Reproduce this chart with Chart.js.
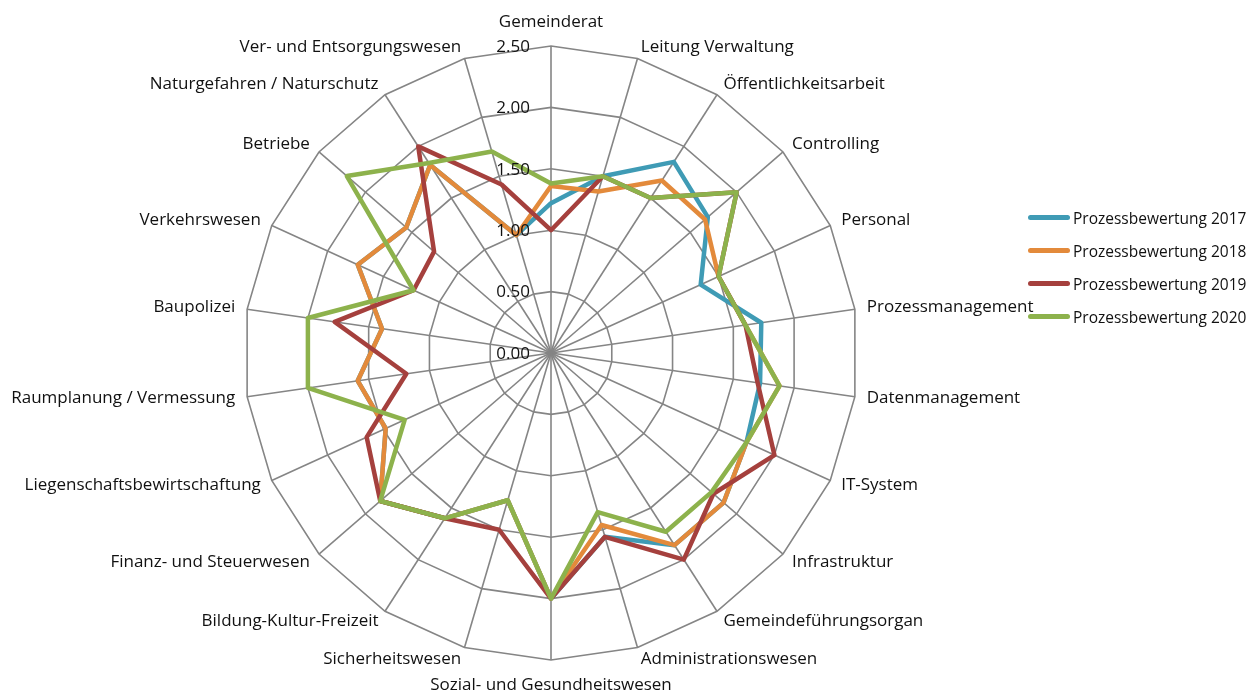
<!DOCTYPE html>
<html lang="de">
<head>
<meta charset="utf-8">
<title>Prozessbewertung</title>
<script src="https://cdn.jsdelivr.net/npm/chart.js@4.4.1/dist/chart.umd.min.js"></script>
<style>
    body { margin: 0; background: #fff; font-family: 'Open Sans', sans-serif; }
    .wrap { position: relative; width: 1257px; height: 692px; }
    .legende { position: absolute; left: 1028px; top: 201px; }
    .legende div { height: 33px; display: flex; align-items: center; font-size: 15.5px; color: #111; white-space: nowrap; }
    .legende span { display: inline-block; width: 42px; height: 5px; border-radius: 3px; margin-right: 3px; }
</style>
</head>
<body>
<div class="wrap">
    <canvas id="radar"></canvas>
    <div class="legende" id="legende"></div>
</div>
<script>
const kategorien = [
    'Gemeinderat', 'Leitung Verwaltung', 'Öffentlichkeitsarbeit', 'Controlling', 'Personal',
    'Prozessmanagement', 'Datenmanagement', 'IT-System', 'Infrastruktur', 'Gemeindeführungsorgan',
    'Administrationswesen', 'Sozial- und Gesundheitswesen', 'Sicherheitswesen', 'Bildung-Kultur-Freizeit',
    'Finanz- und Steuerwesen', 'Liegenschaftsbewirtschaftung', 'Raumplanung / Vermessung', 'Baupolizei',
    'Verkehrswesen', 'Betriebe', 'Naturgefahren / Naturschutz', 'Ver- und Entsorgungswesen'
];
const jahre = ['Prozessbewertung 2017', 'Prozessbewertung 2018', 'Prozessbewertung 2019', 'Prozessbewertung 2020'];

const werte2017 = [1.22, 1.5, 1.85, 1.69, 1.34, 1.73, 1.72, 1.75, 1.86, 1.86, 1.56, 2.0, 1.25, 1.6, 1.84, 1.48, 1.59, 1.39, 1.73, 1.56, 1.82, 1.0];
const werte2018 = [1.36, 1.37, 1.67, 1.66, 1.5, 1.6, 1.88, 1.75, 1.86, 1.86, 1.46, 2.0, 1.25, 1.6, 1.84, 1.48, 1.59, 1.39, 1.73, 1.56, 1.82, 1.0];
const werte2019 = [1.0, 1.5, 1.5, 2.0, 1.5, 1.6, 1.7, 2.0, 1.75, 2.0, 1.56, 2.0, 1.5, 1.6, 1.84, 1.65, 1.19, 1.78, 1.23, 1.26, 2.0, 1.43];
const werte2020 = [1.38, 1.5, 1.5, 2.0, 1.5, 1.6, 1.88, 1.75, 1.73, 1.73, 1.35, 2.0, 1.25, 1.6, 1.84, 1.31, 2.0, 2.0, 1.23, 2.2, 1.84, 1.71];

const skalaWerte = [0, 0.5, 1, 1.5, 2, 2.5];
const farben = ['#3f9bb5', '#e38a3b', '#a5403d', '#8db24c'];

const reihen = [werte2017, werte2018, werte2019, werte2020];

// Achsenbeschriftungen und Skala im Excel-Stil selber zeichnen
const beschriftungen = {
    id: 'beschriftungen',
    afterDraw(chart) {
        const r = chart.scales.r;
        const ctx = chart.ctx;
        ctx.save();
        ctx.fillStyle = '#111';
        ctx.font = '17px "Open Sans"';
        ctx.textBaseline = 'middle';
        kategorien.forEach((name, i) => {
            const p = r.getPointPosition(i, r.drawingArea + 12);
            const dx = p.x - r.xCenter;
            let y = p.y;
            if (Math.abs(dx) < 1) {
                ctx.textAlign = 'center';
                y += p.y < r.yCenter ? -12 : 13;
            } else {
                ctx.textAlign = dx > 0 ? 'left' : 'right';
            }
            ctx.fillText(name, p.x, y);
        });
        ctx.textAlign = 'right';
        skalaWerte.forEach(v => {
            const y = r.yCenter - r.getDistanceFromCenterForValue(v);
            ctx.fillText(v.toFixed(2), r.xCenter - 21, y + 1);
        });
        ctx.restore();
    }
};

new Chart(document.getElementById('radar'), {
    type: 'radar',
    data: {
        labels: kategorien,
        datasets: reihen.map((werte, i) => ({
            label: jahre[i],
            data: werte,
            borderColor: farben[i],
            backgroundColor: farben[i],
            borderWidth: 4.5,
            borderJoinStyle: 'round',
            borderCapStyle: 'round',
            pointRadius: 0,
            fill: false,
            order: reihen.length - i
        }))
    },
    options: {
        responsive: true,
        maintainAspectRatio: false,
        animation: false,
        layout: { padding: { left: 0, right: 155, top: 46, bottom: 32 } },
        plugins: {
            legend: { display: false },
            tooltip: { enabled: false }
        },
        scales: {
            r: {
                min: 0,
                max: 2.5,
                ticks: { stepSize: 0.5, display: false },
                pointLabels: { display: false },
                grid: { color: '#858585', lineWidth: 1.6, circular: false },
                angleLines: { color: '#858585', lineWidth: 1.6 }
            }
        }
    },
    plugins: [beschriftungen]
});

// Legende rechts
const legende = document.getElementById('legende');
jahre.forEach((jahr, i) => {
    const zeile = document.createElement('div');
    zeile.innerHTML = `<span style="background:${farben[i]}"></span>${jahr}`;
    legende.appendChild(zeile);
});
</script>
</body>
</html>
